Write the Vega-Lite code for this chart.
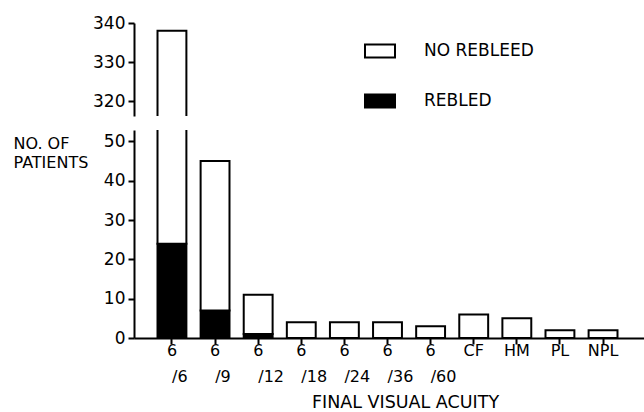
{
  "$schema": "https://vega.github.io/schema/vega-lite/v6.json",
  "padding": {"left": 13, "top": 14, "right": 0, "bottom": 0},
  "background": "white",
  "data": {"values": [
    {"acuity": "6/6", "status": "REBLED", "count": 24},
    {"acuity": "6/6", "status": "NO REBLEED", "count": 314},
    {"acuity": "6/9", "status": "REBLED", "count": 7},
    {"acuity": "6/9", "status": "NO REBLEED", "count": 38},
    {"acuity": "6/12", "status": "REBLED", "count": 1},
    {"acuity": "6/12", "status": "NO REBLEED", "count": 10},
    {"acuity": "6/18", "status": "REBLED", "count": 0},
    {"acuity": "6/18", "status": "NO REBLEED", "count": 4},
    {"acuity": "6/24", "status": "REBLED", "count": 0},
    {"acuity": "6/24", "status": "NO REBLEED", "count": 4},
    {"acuity": "6/36", "status": "REBLED", "count": 0},
    {"acuity": "6/36", "status": "NO REBLEED", "count": 4},
    {"acuity": "6/60", "status": "REBLED", "count": 0},
    {"acuity": "6/60", "status": "NO REBLEED", "count": 3},
    {"acuity": "CF", "status": "REBLED", "count": 0},
    {"acuity": "CF", "status": "NO REBLEED", "count": 6},
    {"acuity": "HM", "status": "REBLED", "count": 0},
    {"acuity": "HM", "status": "NO REBLEED", "count": 5},
    {"acuity": "PL", "status": "REBLED", "count": 0},
    {"acuity": "PL", "status": "NO REBLEED", "count": 2},
    {"acuity": "NPL", "status": "REBLED", "count": 0},
    {"acuity": "NPL", "status": "NO REBLEED", "count": 2}
  ]},
  "spacing": 14,
  "resolve": {"scale": {"y": "independent"}},
  "vconcat": [
    {
      "width": 510,
      "height": 93,
      "mark": {"type": "bar", "stroke": "black", "strokeWidth": 2, "clip": true},
      "encoding": {
        "x": {"field": "acuity", "type": "nominal",
          "scale": {"domain": ["6/6","6/9","6/12","6/18","6/24","6/36","6/60","CF","HM","PL","NPL"], "paddingInner": 0.33, "paddingOuter": 0.58, "align": 0.47},
          "axis": null},
        "y": {"field": "count", "type": "quantitative", "stack": "zero",
          "scale": {"domain": [316.3, 340], "nice": false, "zero": false},
          "axis": {"values": [320, 330, 340], "title": null, "labelFontSize": 17, "labelPadding": 3}},
        "fill": {"field": "status", "type": "nominal",
          "scale": {"domain": ["NO REBLEED", "REBLED"], "range": ["white", "black"]},
          "legend": {"orient": "none", "legendX": 230, "legendY": 12, "title": null}},
        "order": {"field": "status", "sort": "descending"}
      }
    },
    {
      "width": 510,
      "height": 208,
      "mark": {"type": "bar", "stroke": "black", "strokeWidth": 2, "clip": true},
      "encoding": {
        "x": {"field": "acuity", "type": "nominal",
          "scale": {"domain": ["6/6","6/9","6/12","6/18","6/24","6/36","6/60","CF","HM","PL","NPL"], "paddingInner": 0.33, "paddingOuter": 0.58, "align": 0.47},
          "axis": {
            "title": "FINAL VISUAL ACUITY",
            "titleFontSize": 17.5,
            "titleX": 271,
            "titleY": 69,
            "titleBaseline": "alphabetic",
            "titleAlign": "center",
            "labelAngle": 0,
            "labelFontSize": 16,
            "labelPadding": -2,
            "labelLineHeight": 26,
            "labelBaseline": "top",
            "labelAlign": {"condition": {"test": "indexof(datum.value, '/') > 0", "value": "left"}, "value": "center"},
            "labelOffset": {"condition": {"test": "indexof(datum.value, '/') > 0", "value": -5}, "value": 0},
            "labelExpr": "indexof(datum.label, '/') > 0 ? [split(datum.label, '/')[0], '\u200b\u00a0/' + split(datum.label, '/')[1]] : datum.label"
          }},
        "y": {"field": "count", "type": "quantitative", "stack": "zero",
          "scale": {"domain": [0, 52.9], "nice": false},
          "axis": {"values": [0, 10, 20, 30, 40, 50], "title": ["NO. OF", "PATIENTS"],
            "labelFontSize": 17, "labelPadding": 3,
            "titleAngle": 0, "titleAlign": "left", "titleBaseline": "alphabetic",
            "titleX": -121, "titleY": 18, "titleFontSize": 16, "titleLineHeight": 19.5}},
        "fill": {"field": "status", "type": "nominal",
          "scale": {"domain": ["NO REBLEED", "REBLED"], "range": ["white", "black"]},
          "legend": {"orient": "none", "legendX": 230, "legendY": 12, "title": null}},
        "order": {"field": "status", "sort": "descending"}
      }
    }
  ],
  "config": {
    "view": {"stroke": null},
    "font": "DejaVu Sans",
    "axis": {
      "grid": false,
      "domainColor": "black", "domainWidth": 2,
      "tickColor": "black", "tickWidth": 2, "tickSize": 6,
      "labelColor": "black", "titleColor": "black",
      "labelFont": "DejaVu Sans", "titleFont": "DejaVu Sans",
      "titleFontWeight": "normal"
    },
    "legend": {
      "symbolType": "M-1,-0.43H1V0.43H-1Z",
      "symbolSize": 900,
      "symbolStrokeColor": "black",
      "symbolStrokeWidth": 2,
      "labelFont": "DejaVu Sans",
      "labelFontSize": 17,
      "labelColor": "black",
      "labelOffset": 28,
      "rowPadding": 23,
      "padding": 0,
      "labelExpr": "datum.label == 'NO REBLEED' ? 'NO\u00a0\u00a0REBLEED' : datum.label"
    }
  }
}
